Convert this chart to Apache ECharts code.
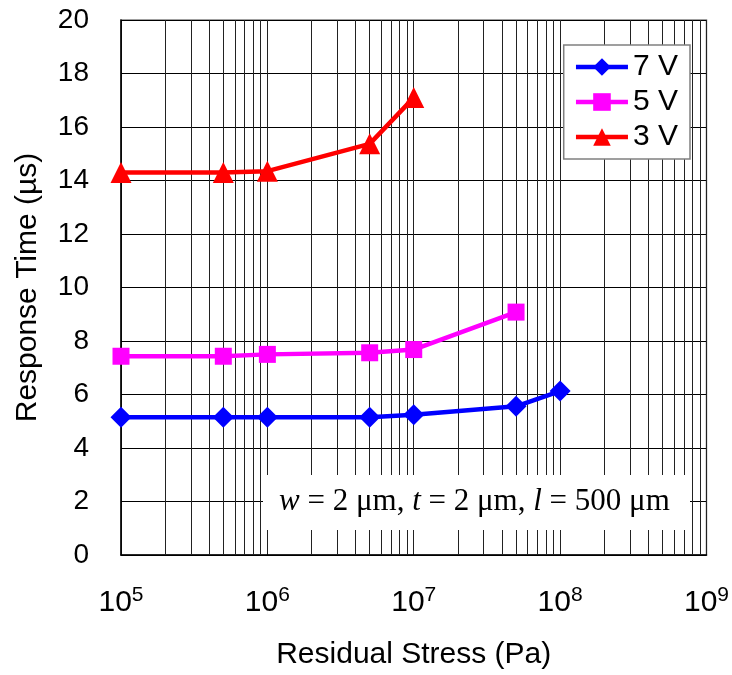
<!DOCTYPE html>
<html>
<head>
<meta charset="utf-8">
<script src="https://cdn.jsdelivr.net/npm/echarts@6/dist/echarts.min.js"></script>
<style>
  html, body { margin: 0; padding: 0; background: #fff; }
  #chart { width: 732px; height: 675px; }
</style>
</head>
<body>
<div id="chart"></div>
<script>
// 数据
const x7 = [1e5, 5e5, 1e6, 5e6, 1e7, 5e7, 1e8];
const y7 = [5.15, 5.15, 5.15, 5.15, 5.24, 5.56, 6.13];
const x5 = [1e5, 5e5, 1e6, 5e6, 1e7, 5e7];
const y5 = [7.43, 7.43, 7.5, 7.56, 7.68, 9.08];
const x3 = [1e5, 5e5, 1e6, 5e6, 1e7];
const y3 = [14.3, 14.3, 14.35, 15.37, 17.1];
const seriesNames = ["7 V", "5 V", "3 V"];
const decades = [5, 6, 7, 8];
const minorSteps = [2, 3, 4, 5, 6, 7, 8, 9];

// 对数轴次网格线 2..9 × 10^n
const minorGridX = [];
decades.forEach((d) => {
  minorSteps.forEach((k) => minorGridX.push(k * Math.pow(10, d)));
});

const zip = (xs, ys) => xs.map((x, i) => [x, ys[i]]);

const chart = echarts.init(document.getElementById("chart"));
const font = "Liberation Sans";

const lineSeries = (name, xs, ys, color, symbol, size) => ({
  name,
  type: "line",
  data: zip(xs, ys),
  symbol,
  symbolSize: size,
  lineStyle: { color, width: 4.5 },
  itemStyle: { color },
  z: 5,
  animation: false,
});

chart.setOption({
  animation: false,
  textStyle: { fontFamily: font },
  grid: {
    left: 121,
    right: 22,
    top: 20,
    bottom: 118,
    show: true,
    borderColor: "#808080",
    borderWidth: 1.5,
  },
  xAxis: {
    type: "log",
    logBase: 10,
    min: 1e5,
    max: 1e9,
    name: "Residual Stress (Pa)",
    nameLocation: "middle",
    nameGap: 85,
    nameTextStyle: { fontSize: 30, color: "#000", fontFamily: font },
    axisLine: { lineStyle: { color: "#000", width: 1.5 } },
    axisTick: { show: false },
    splitLine: { show: true, lineStyle: { color: "#222", width: 1 } },
    axisLabel: {
      margin: 30,
      color: "#000",
      formatter: (v) => "{b|10}{s|" + Math.round(Math.log10(v)) + "}",
      rich: {
        b: { fontSize: 30, fontFamily: font, color: "#000" },
        s: { fontSize: 21, fontFamily: font, color: "#000", padding: [0, 0, 15, 0] },
      },
    },
  },
  yAxis: {
    type: "value",
    min: 0,
    max: 20,
    interval: 2,
    name: "Response Time (\u00b5s)",
    nameLocation: "middle",
    nameGap: 78,
    nameTextStyle: { fontSize: 30, color: "#000", fontFamily: font },
    axisLine: { show: true, lineStyle: { color: "#000", width: 1.5 } },
    axisTick: { show: true, inside: true, length: 8, lineStyle: { color: "#000" } },
    splitLine: { show: true, lineStyle: { color: "#000", width: 1 } },
    axisLabel: { fontSize: 28, color: "#000", margin: 32, fontFamily: font },
  },
  legend: {
    data: seriesNames,
    orient: "vertical",
    right: 42,
    top: 45,
    z: 20,
    itemWidth: 52,
    itemHeight: 22,
    itemGap: 5,
    padding: [7, 12, 7, 10],
    backgroundColor: "#fff",
    borderColor: "#808080",
    borderWidth: 1.5,
    lineStyle: { width: 4.5 },
    textStyle: { fontSize: 30, color: "#000", fontFamily: font },
  },
  graphic: [
    {
      type: "rect",
      shape: { x: 263, y: 475, width: 427, height: 55 },
      style: { fill: "#fff" },
      z: 10,
    },
    {
      type: "text",
      left: 279,
      top: 486,
      z: 11,
      style: {
        text: "{i|w} = 2 \u03bcm, {i|t} = 2 \u03bcm, {i|l} = 500 \u03bcm",
        fontSize: 31,
        fontFamily: "Liberation Serif",
        fill: "#000",
        rich: {
          i: { fontSize: 31, fontFamily: "Liberation Serif", fontStyle: "italic", fill: "#000" },
        },
      },
    },
  ],
  series: [
    {
      name: "minor-grid",
      type: "line",
      data: [],
      silent: true,
      z: 1,
      markLine: {
        silent: true,
        symbol: "none",
        animation: false,
        label: { show: false },
        lineStyle: { color: "#222", width: 1, type: "solid" },
        data: minorGridX.map((v) => ({ xAxis: v })),
      },
    },
    lineSeries(seriesNames[0], x7, y7, "#0000ff", "diamond", 21),
    lineSeries(seriesNames[1], x5, y5, "#ff00ff", "rect", 17),
    lineSeries(seriesNames[2], x3, y3, "#ff0000", "triangle", 21),
  ],
});
</script>
</body>
</html>
